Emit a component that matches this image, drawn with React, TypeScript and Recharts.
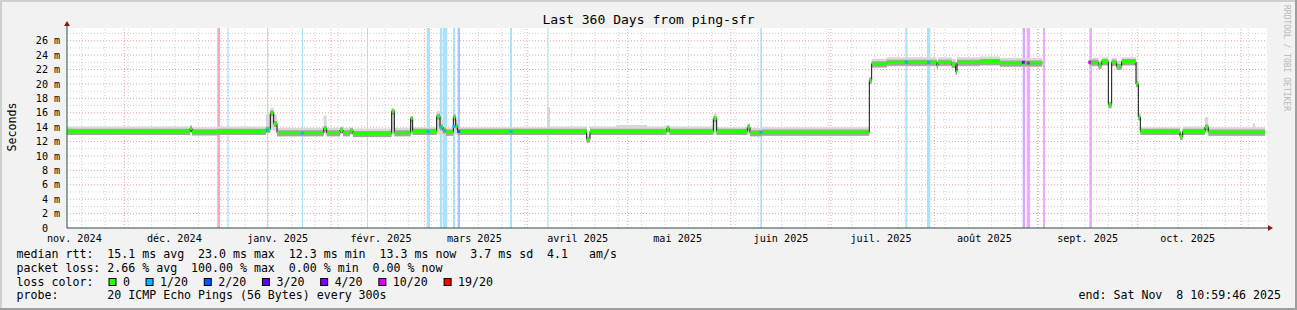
import { Area, CartesianGrid, ComposedChart, Line, ReferenceArea, ReferenceLine, Scatter, XAxis, YAxis } from 'recharts';

const W = 1297;
const H = 310;
const Y_MAX = 27.76;
const FONT = '"DejaVu Sans Mono", monospace';

// x values are days since the start of the graph (13 Nov 2024, ~11:00)
const MONTH_LABELS = ['nov. 2024', 'déc. 2024', 'janv. 2025', 'févr. 2025', 'mars 2025', 'avril 2025', 'mai 2025', 'juin 2025', 'juil. 2025', 'août 2025', 'sept. 2025', 'oct. 2025'];
const MONTH_MID = [2.2, 32.2, 63.2, 94.2, 122.2, 153.2, 183.2, 214.2, 244.2, 275.2, 306.2, 336.2];
const MONTH_START = [17.2, 48.2, 79.2, 107.2, 138.2, 168.2, 199.2, 229.2, 260.2, 291.2, 321.2, 352.2];
const FIRST_MONDAY = 4.4;
const Y_TICKS = [0, 2, 4, 6, 8, 10, 12, 14, 16, 18, 20, 22, 24, 26];
const Y_MINOR = [1, 3, 5, 7, 9, 11, 13, 15, 17, 19, 21, 23, 25, 27];

// median rtt (ms) and smoke range, step points
const DAYS = [
  0.0, 36.9, 37.5, 45.0, 59.7, 61.0, 62.0, 63.0, 77.0, 77.9,
  81.9, 82.8, 84.9, 85.8, 97.4, 98.2, 103.1, 103.7, 110.9, 111.9,
  112.8, 113.7, 115.9, 116.6, 117.2, 144.0, 144.9, 155.9, 156.9, 164.7,
  174.0, 179.9, 180.7, 193.9, 194.9, 204.1, 204.9, 208.5, 240.7, 241.4,
  245.9, 260.9, 261.3, 265.4, 266.6, 267.0, 273.9, 279.9, 292.6, 292.8,
  306.7, 309.4, 310.4, 312.4, 313.4, 314.9, 316.4, 320.7, 321.4, 322.0,
  333.9, 334.7, 341.4, 342.4, 355.8, 356.4, 359.4,
];
const MEDIAN = [
  13.4, 13.8, 13.35, 13.4, 13.7, 16.0, 14.5, 13.2, 13.8, 13.2,
  13.6, 13.2, 13.5, 13.1, 16.2, 13.2, 15.2, 13.4, 15.5, 14.0,
  13.6, 13.3, 15.4, 14.1, 13.4, 13.4, 13.4, 12.3, 13.4, 13.4,
  13.4, 13.8, 13.4, 15.2, 13.4, 14.0, 13.2, 13.3, 20.5, 22.8,
  23.0, 22.6, 23.0, 22.7, 21.7, 23.0, 23.1, 22.9, 22.9, null,
  23.0, 22.6, 23.1, 17.1, 23.0, 22.4, 23.1, 20.0, 15.4, 13.4,
  12.7, 13.4, 14.0, 13.3, 13.3, 13.3, 13.3,
];
const SMOKE_LO = [
  12.9, 13.2, 12.8, 12.9, 13.2, 13.6, 13.5, 12.7, 13.2, 12.7,
  13.1, 12.7, 13.0, 12.6, 13.0, 12.7, 13.0, 12.9, 13.0, 13.0,
  13.0, 12.8, 13.0, 13.0, 12.9, 12.9, 12.9, 12.0, 12.9, 12.9,
  12.9, 13.2, 12.9, 13.0, 12.9, 13.0, 12.7, 12.8, 20.0, 22.2,
  22.4, 22.2, 22.4, 22.2, 21.4, 22.4, 22.5, 22.3, 22.3, null,
  22.4, 22.1, 22.5, 16.8, 22.4, 22.0, 22.5, 19.8, 15.0, 12.9,
  12.4, 12.9, 13.3, 12.8, 12.8, 12.8, 12.8,
];
const SMOKE_HI = [
  14.1, 14.3, 14.0, 14.1, 15.8, 16.7, 15.8, 13.9, 15.6, 13.9,
  14.1, 13.9, 14.0, 13.8, 16.6, 13.9, 15.5, 14.0, 16.2, 15.0,
  14.2, 13.9, 15.9, 15.0, 14.0, 16.8, 14.1, 13.0, 14.1, 14.3,
  14.1, 14.3, 14.1, 15.9, 14.0, 14.5, 13.9, 14.0, 21.0, 23.5,
  23.7, 23.4, 23.7, 23.5, 23.0, 23.7, 23.8, 23.6, 23.6, null,
  23.6, 23.3, 23.7, 17.5, 23.6, 23.2, 23.7, 23.0, 16.0, 14.0,
  13.3, 14.1, 15.4, 14.0, 14.5, 14.0, 14.0,
];

// loss levels
const LOSS_LEVELS = ['0', '1/20', '2/20', '3/20', '4/20', '10/20', '19/20'];
const LOSS_COLORS = ['#26ff00', '#00b8ff', '#0059ff', '#5e00ff', '#7e00ff', '#dd00ff', '#ff0000'];
const LOSS_BG = ['#ffffff', '#a9e3fb', '#a9c2fb', '#c4a9fb', '#cfaafb', '#f1aaf7', '#f6a6bd'];

// [start day, end day, loss level index]
const LOSS_BANDS = [
  [45.1, 45.9, 6], [48.2, 48.5, 1], [60.0, 60.3, 1], [70.5, 70.8, 1], [90.0, 90.3, 1],
  [107.9, 108.9, 1], [111.9, 112.5, 1], [112.7, 114.1, 1], [115.8, 116.4, 1], [117.2, 117.9, 2],
  [132.9, 133.5, 1], [144.1, 144.4, 1], [208.0, 208.5, 1], [251.5, 252.1, 1], [258.0, 259.0, 1],
  [286.7, 287.4, 4], [287.9, 288.9, 5], [292.8, 293.4, 5], [306.7, 307.5, 5],
];

// [day, median, loss level index]
const LOSS_MARKS = [
  [60.1, 13.6, 1], [70.6, 13.2, 1], [108.3, 13.4, 1], [112.1, 14.0, 1], [113.2, 13.5, 1],
  [116.1, 14.1, 1], [117.5, 13.4, 2], [133.2, 13.4, 1], [208.2, 13.3, 1], [251.8, 23.0, 1],
  [258.5, 23.0, 1], [286.9, 23.0, 4], [288.4, 22.9, 5], [306.8, 23.0, 5],
];

const STATS = [
  'median rtt:  15.1 ms avg  23.0 ms max  12.3 ms min  13.3 ms now  3.7 ms sd  4.1   am/s',
  'packet loss: 2.66 % avg  100.00 % max  0.00 % min  0.00 % now',
];
const PROBE = 'probe:       20 ICMP Echo Pings (56 Bytes) every 300s';
const END = 'end: Sat Nov  8 10:59:46 2025';

const CW = 7.05; // legend char width

const weeks: number[] = [];
for (let d = FIRST_MONDAY; d < 360; d += 7) weeks.push(d);

function XTick(props: any) {
  const i = MONTH_MID.indexOf(props.payload.value);
  return (
    <text x={props.x} y={241.5} textAnchor="middle" fontSize={10.15} fontFamily={FONT} fill="#000">
      {MONTH_LABELS[i]}
    </text>
  );
}

function YTick(props: any) {
  const v = props.payload.value;
  const y = props.y + 3.6;
  return (
    <g fontSize={10.15} fontFamily={FONT} fill="#000">
      <text x={48} y={y} textAnchor="end">{v}</text>
      {v !== 0 && <text x={54} y={y}>m</text>}
    </g>
  );
}

function LossDot(props: any) {
  return <rect x={props.cx - 1.5} y={props.cy - 1.5} width={3} height={3} fill={props.payload.color} />;
}

export default function App() {
  const rows = DAYS.map((day, i) => {
    const m = MEDIAN[i];
    if (m == null) return { day, median: null, smoke: null, core: null, band: null };
    return {
      day,
      median: m,
      smoke: [SMOKE_LO[i], SMOKE_HI[i]],
      core: [m - 0.48, m + 0.36],
      band: [m - 0.2, m + 0.22],
    };
  });
  const marks = LOSS_MARKS.map(([day, v, l]) => ({ day, v, color: LOSS_COLORS[l] }));

  let lx = 108.5;
  const legend = LOSS_LEVELS.map((label, i) => {
    const item = { x: lx, label, color: LOSS_COLORS[i] };
    lx += 14.5 + label.length * CW + 15.5;
    return item;
  });

  return (
    <div style={{ position: 'absolute', left: 0, top: 0, width: W, height: H, background: '#f2f2f2' }}>
      <ComposedChart
        width={W}
        height={H}
        data={rows}
        margin={{ top: 28, right: 30, bottom: 62, left: 7 }}
        style={{ position: 'absolute', left: 0, top: 0 }}
      >
        <CartesianGrid horizontal={false} vertical={false} fill="#ffffff" />
        {Y_MINOR.map((v) => (
          <ReferenceLine key={'ym' + v} y={v} stroke="#d0d0d0" strokeDasharray="1 2" zIndex={-60} />
        ))}
        {weeks.map((d) => (
          <ReferenceLine key={'xw' + d} x={d} stroke="#d0d0d0" strokeDasharray="1 2" zIndex={-60} />
        ))}
        {Y_TICKS.filter((v) => v > 0).map((v) => (
          <ReferenceLine key={'yM' + v} y={v} stroke="#f5a0a0" strokeDasharray="1 2" zIndex={-55} />
        ))}
        {MONTH_START.map((d) => (
          <ReferenceLine key={'xM' + d} x={d} stroke="#f5a0a0" strokeDasharray="1 2" zIndex={-55} />
        ))}
        {LOSS_BANDS.map(([a, b, l]) => (
          <ReferenceArea key={'b' + a} x1={a} x2={b} y1={0} y2={Y_MAX} fill={LOSS_BG[l]} fillOpacity={1} stroke="none" zIndex={-50} />
        ))}
        <XAxis
          type="number"
          dataKey="day"
          domain={[0, 360]}
          ticks={MONTH_MID}
          interval={0}
          allowDataOverflow
          height={20}
          tickLine={false}
          axisLine={{ stroke: '#2c4d43' }}
          tick={XTick}
        />
        <YAxis
          type="number"
          domain={[0, Y_MAX]}
          ticks={Y_TICKS}
          interval={0}
          allowDataOverflow
          width={60}
          tickLine={false}
          axisLine={{ stroke: '#2c4d43' }}
          tick={YTick}
        />
        <Area dataKey="smoke" type="stepAfter" fill="#d8d8d8" fillOpacity={1} stroke="none" dot={false} activeDot={false} isAnimationActive={false} zIndex={100} />
        <Area dataKey="core" type="stepAfter" fill="#a4a4a4" fillOpacity={1} stroke="none" dot={false} activeDot={false} isAnimationActive={false} zIndex={110} />
        <Line dataKey="median" type="stepAfter" stroke="#111" strokeWidth={1} dot={false} activeDot={false} isAnimationActive={false} zIndex={120} />
        <Area dataKey="band" type="stepAfter" fill="#26ff00" fillOpacity={1} stroke="none" dot={false} activeDot={false} isAnimationActive={false} zIndex={130} />
        <Scatter data={marks} dataKey="v" shape={LossDot} isAnimationActive={false} zIndex={140} />
      </ComposedChart>

      <svg width={W} height={H} style={{ position: 'absolute', left: 0, top: 0, pointerEvents: 'none' }}>
        <rect x={0} y={0} width={W} height={2} fill="#cfcfcf" />
        <rect x={0} y={0} width={2} height={H} fill="#cfcfcf" />
        <rect x={0} y={H - 2} width={W} height={2} fill="#9e9e9e" />
        <rect x={W - 2} y={0} width={2} height={H} fill="#9e9e9e" />

        <text x={W / 2} y={23.5} textAnchor="middle" fontSize={13.05} fontFamily={FONT} fill="#000">
          Last 360 Days from ping-sfr
        </text>
        <text x={15.5} y={127} transform="rotate(-90 15.5 127)" textAnchor="middle" fontSize={11.6} fontFamily={FONT} fill="#000">
          Seconds
        </text>
        <text x={1284} y={5} transform="rotate(90 1284 5)" fontSize={8} fontFamily={FONT} fill="#b8b8b8">
          RRDTOOL / TOBI OETIKER
        </text>

        <line x1={67} y1={28} x2={67} y2={24} stroke="#2c4d43" />
        <path d="M64,26 L70,26 L67,21 Z" fill="#8b1a1a" />
        <line x1={1267} y1={228} x2={1269} y2={228} stroke="#2c4d43" />
        <path d="M1268,225 L1268,231 L1273,228 Z" fill="#8b1a1a" />

        <g fontSize={11.6} fontFamily={FONT} fill="#000" style={{ whiteSpace: 'pre' }}>
          <text x={16.6} y={257.7} xmlSpace="preserve">{STATS[0]}</text>
          <text x={16.6} y={271.6} xmlSpace="preserve">{STATS[1]}</text>
          <text x={16.6} y={285.5} xmlSpace="preserve">loss color:</text>
          {legend.map((it) => (
            <g key={it.label}>
              <rect x={it.x + 0.5} y={278.5} width={7} height={7} fill={it.color} stroke="#000" strokeWidth={1} />
              <text x={it.x + 14.5} y={285.5}>{it.label}</text>
            </g>
          ))}
          <text x={16.6} y={299.4} xmlSpace="preserve">{PROBE}</text>
          <text x={1281} y={299.4} textAnchor="end" xmlSpace="preserve">{END}</text>
        </g>
      </svg>
    </div>
  );
}
